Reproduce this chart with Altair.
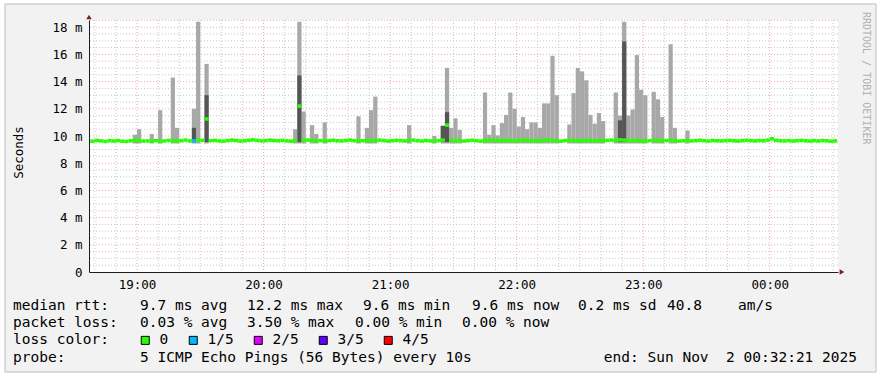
import altair as alt
import pandas as pd

MONO = "DejaVu Sans Mono"

# ---------------- data ----------------
bin_first = "18:36"          # first 2-minute RRD bin
bin_minutes = 2
view_start = "18:37:15"
view_end = "00:32:21"
y_max_ms = 18.53

# median rtt per 2-minute bin (ms)
median_ms = [
    9.66, 9.62, 9.68, 9.64, 9.60, 9.66, 9.63, 9.67, 9.62, 9.60, 9.65, 9.69, 9.66, 9.63, 9.64,
    9.62, 9.66, 9.60, 9.64, 9.68, 9.65, 9.62, 9.66, 9.70, 9.64, 9.65, 9.70, 9.68, 11.25, 9.66,
    9.68, 9.64, 9.62, 9.66, 9.70, 9.67, 9.63, 9.65, 9.69, 9.72, 9.68, 9.64, 9.66, 9.70, 9.67,
    9.65, 9.68, 9.64, 9.62, 9.66, 12.20, 9.68, 9.70, 9.66, 9.64, 9.67, 9.63, 9.66, 9.69, 9.65,
    9.64, 9.67, 9.70, 9.66, 9.63, 9.65, 9.68, 9.64, 9.66, 9.70, 9.67, 9.63, 9.65, 9.68, 9.66,
    9.64, 9.67, 9.70, 9.66, 9.63, 9.67, 9.64, 9.62, 9.66, 9.70, 10.80, 9.68, 9.64, 9.66, 9.63,
    9.66, 9.69, 9.65, 9.62, 9.66, 9.70, 9.67, 9.64, 9.66, 9.69, 9.65, 9.63, 9.67, 9.70, 9.66,
    9.64, 9.67, 9.63, 9.66, 9.70, 9.68, 9.64, 9.62, 9.66, 9.69, 9.65, 9.63, 9.66, 9.68, 9.65,
    9.63, 9.67, 9.65, 9.68, 9.70, 9.66, 9.72, 9.70, 9.66, 9.63, 9.67, 9.64, 9.62, 9.66, 9.69,
    9.66, 9.64, 9.67, 9.70, 9.66, 9.63, 9.65, 9.68, 9.64, 9.66, 9.69, 9.65, 9.63, 9.67, 9.65,
    9.64, 9.66, 9.68, 9.65, 9.63, 9.66, 9.69, 9.66, 9.64, 9.67, 9.65, 9.70, 9.80, 9.68, 9.65,
    9.64, 9.66, 9.63, 9.66, 9.68, 9.65, 9.63, 9.66, 9.64, 9.67, 9.65, 9.62, 9.64,
]

# light smoke: bins whose max ping rises above the baseline
spike_times = [
    "18:58", "19:00", "19:06", "19:10", "19:16", "19:18", "19:26", "19:28", "19:32",
    "20:14", "20:16", "20:18", "20:22", "20:24", "20:28", "20:44", "20:48", "20:50", "20:52",
    "21:08", "21:20", "21:24", "21:26", "21:28", "21:30", "21:32", "21:44", "21:46", "21:48",
    "21:50", "21:52", "21:54", "21:56", "21:58", "22:00", "22:02", "22:04", "22:06", "22:08",
    "22:10", "22:12", "22:14", "22:16", "22:18", "22:24", "22:26", "22:28", "22:30", "22:32",
    "22:34", "22:36", "22:38", "22:40", "22:46", "22:48", "22:50", "22:52", "22:54", "22:56",
    "22:58", "23:00", "23:04", "23:06", "23:08", "23:12", "23:14", "23:20",
]
spike_top_ms = [
    10.1, 10.5, 10.15, 11.9, 14.3, 10.6, 12.0, 18.4, 15.3,
    10.5, 18.4, 11.8, 10.8, 10.15, 11.0, 11.45, 10.6, 11.9, 12.9,
    10.8, 10.0, 10.75, 15.0, 10.6, 11.3, 10.45, 13.2, 10.1, 10.8,
    10.05, 10.95, 11.55, 13.2, 12.0, 10.7, 11.4, 10.5, 11.0, 11.0,
    10.6, 12.4, 12.4, 15.9, 13.0, 10.85, 13.15, 15.0, 14.75, 14.1,
    11.55, 10.9, 11.7, 11.1, 13.2, 11.5, 18.4, 11.5, 11.95, 15.95,
    13.4, 13.0, 13.25, 12.7, 11.4, 16.75, 10.6, 10.4,
]
smoke_floor_ms = 9.45

# dark smoke (inner pings)
dark_times = ["19:26", "19:32", "20:16", "21:24", "21:26", "22:48", "22:50"]
dark_top_ms = [10.6, 13.0, 14.45, 10.75, 11.75, 11.15, 16.95]
dark_floor_ms = 9.55

# packet loss per bin (only non-zero bins listed)
loss_times = ["19:26"]
loss_at = ["1/5"]
loss_levels = ["0", "1/5", "2/5", "3/5", "4/5"]
loss_colors = ["#26ff00", "#00b8ff", "#dd00ff", "#5e00ff", "#ff0000"]

y_ticks = [0, 2, 4, 6, 8, 10, 12, 14, 16, 18]
x_major = ["19:00", "20:00", "21:00", "22:00", "23:00", "00:00"]

rtt_label = "median rtt:"
rtt_values = ["9.7 ms avg", "12.2 ms max", "9.6 ms min", "9.6 ms now", "0.2 ms sd", "40.8", "am/s"]
loss_label = "packet loss:"
loss_values = ["0.03 % avg", "3.50 % max", "0.00 % min", "0.00 % now"]
color_label = "loss color:"
probe_label = "probe:"
probe_text = "5 ICMP Echo Pings (56 Bytes) every 10s"
end_text = "end: Sun Nov\u00a0\u00a02 00:32:21 2025"
watermark = "RRDTOOL / TOBI OETIKER"

# ---------------- layout constants ----------------
W, H = 749, 252
LEFT, TOP = 89, 20
FS = 14.5
AXIS_C = "#1f1f1f"
GRID_C = "#c8c8c8"
MGRID_C = "#f0a8a8"
ARROW_C = "#801f1f"
LIGHT = "#a8a8a8"
DARK = "#555555"


def to_min(s):
    parts = [int(p) for p in s.split(":")]
    sec = parts[2] if len(parts) > 2 else 0
    return ((parts[0] * 60 + parts[1] - 18 * 60) % 1440) + sec / 60.0


X_SCALE = alt.Scale(domain=[to_min(view_start), to_min(view_end)], nice=False, zero=False)
Y_SCALE = alt.Scale(domain=[0, y_max_ms], nice=False, zero=False)

t_first = to_min(bin_first)
loss_map = dict(zip(loss_times, loss_at))
med_df = pd.DataFrame({
    "t0": [t_first + bin_minutes * i for i in range(len(median_ms))],
    "ms": median_ms,
})
med_df["t1"] = med_df["t0"] + bin_minutes
med_df["level"] = [loss_map.get(f"{(18 + int(t // 60)) % 24:02d}:{int(t % 60):02d}", "0") for t in med_df["t0"]]

spike_df = pd.DataFrame({"t0": [to_min(t) for t in spike_times], "hi": spike_top_ms})
spike_df["t1"] = spike_df["t0"] + bin_minutes
spike_df["lo"] = smoke_floor_ms

dark_df = pd.DataFrame({"t0": [to_min(t) for t in dark_times], "hi": dark_top_ms})
dark_df["t1"] = dark_df["t0"] + bin_minutes
dark_df["lo"] = dark_floor_ms

major_x = [to_min(t) for t in x_major]
minor_x = [m for m in range(40, 393, 10) if m % 60]
major_y = [v for v in y_ticks if v > 0]
minor_y = [v / 2 for v in range(1, 38) if v % 4]

X_AXIS = alt.Axis(
    values=major_x,
    labelExpr="timeFormat(datetime(2025, 10, 1, 18, datum.value, 0), '%H:%M')",
    grid=False, ticks=False, domainColor=AXIS_C, domainWidth=1,
    labelFont=MONO, labelFontSize=12.5, labelColor="black", labelPadding=6,
    title="", zindex=1,
)
Y_AXIS = alt.Axis(
    values=y_ticks,
    labelExpr="datum.value == 0 ? '0\u00a0\u00a0' : datum.value + ' m'",
    grid=False, ticks=False, domainColor=AXIS_C, domainWidth=1,
    labelFont=MONO, labelFontSize=12.5, labelColor="black", labelPadding=7,
    title="Seconds", titleFont=MONO, titleFontSize=12.5, titleFontWeight="normal",
    titleColor="black", titleAngle=270, titleX=18 - LEFT, titleY=152 - TOP,
    titleAlign="center", titleBaseline="middle", zindex=1,
)


def xq(field):
    return alt.X(field, type="quantitative", scale=X_SCALE, axis=X_AXIS)


def yq(field):
    return alt.Y(field, type="quantitative", scale=Y_SCALE, axis=Y_AXIS)


# ---------------- decoration: frame & canvas ----------------
frame = alt.Chart(pd.DataFrame({"k": [0]})).mark_rect(
    fill="#f2f2f2", stroke="#bdbdbd", strokeWidth=1
).encode(
    x=alt.value(5 - LEFT), x2=alt.value(876 - LEFT),
    y=alt.value(4 - TOP), y2=alt.value(372 - TOP),
)
canvas = alt.Chart(pd.DataFrame({"k": [0]})).mark_rect(fill="white").encode(
    x=alt.value(0), x2=alt.value(W), y=alt.value(0), y2=alt.value(H),
)


# ---------------- grid ----------------
def vgrid(vals, color):
    return alt.Chart(pd.DataFrame({"t": vals})).mark_rule(
        color=color, strokeWidth=1, strokeDash=[1, 2]
    ).encode(x=xq("t"))


def hgrid(vals, color):
    return alt.Chart(pd.DataFrame({"v": vals})).mark_rule(
        color=color, strokeWidth=1, strokeDash=[1, 2]
    ).encode(y=yq("v"))


# ---------------- data marks ----------------
smoke = alt.Chart(spike_df).mark_rect(color=LIGHT).encode(
    x=xq("t0"), x2="t1", y=yq("lo"), y2="hi",
)
smoke_dark = alt.Chart(dark_df).mark_rect(color=DARK).encode(
    x=xq("t0"), x2="t1", y=yq("lo"), y2="hi",
)
median = alt.Chart(med_df).mark_rule(strokeWidth=3.5, clip=True).encode(
    x=xq("t0"), x2="t1", y=yq("ms"),
    stroke=alt.Stroke("level:N", scale=alt.Scale(domain=loss_levels, range=loss_colors), legend=None),
)

# ---------------- legend (loss colors) ----------------
legend_df = pd.DataFrame({"level": loss_levels, "t": [None] * 5, "v": [None] * 5})
legend_layer = alt.Chart(legend_df).mark_square(
    filled=True, stroke="black", strokeWidth=1, opacity=1
).encode(
    x=xq("t"), y=yq("v"),
    fill=alt.Fill(
        "level:N",
        scale=alt.Scale(domain=loss_levels, range=loss_colors),
        legend=alt.Legend(
            title=color_label, orient="none", legendX=13 - LEFT, legendY=333 - TOP,
            direction="horizontal", titleOrient="left", titlePadding=28,
            symbolType="square", symbolSize=64, symbolStrokeColor="black", symbolStrokeWidth=1,
            symbolOpacity=1,
            labelFont=MONO, labelFontSize=FS, labelColor="black", labelOffset=7,
            titleFont=MONO, titleFontSize=FS, titleFontWeight="normal", titleColor="black",
            titleBaseline="middle", titleAnchor="middle",
            columnPadding=17, padding=0,
        ),
    ),
)

# ---------------- axis arrows ----------------
arrow_up = alt.Chart(pd.DataFrame({"k": [0]})).mark_point(
    shape="triangle-up", filled=True, color=ARROW_C, size=30, opacity=1
).encode(x=alt.value(0), y=alt.value(-3))
arrow_right = alt.Chart(pd.DataFrame({"k": [0]})).mark_point(
    shape="triangle-right", filled=True, color=ARROW_C, size=30, opacity=1
).encode(x=alt.value(W + 4), y=alt.value(H))

# ---------------- text ----------------
rows = []
rows.append((rtt_label, 13, 310))
for txt, px in zip(rtt_values, [140, 247, 363, 472, 578, 667, 738]):
    rows.append((txt, px, 310))
rows.append((loss_label, 13, 327))
for txt, px in zip(loss_values, [140, 247, 355, 462]):
    rows.append((txt, px, 327))
rows.append((probe_label, 13, 362))
rows.append((probe_text, 140, 362))
text_df = pd.DataFrame({
    "txt": [r[0] for r in rows],
    "px": [r[1] - LEFT for r in rows],
    "py": [r[2] - TOP for r in rows],
})
texts = alt.Chart(text_df).mark_text(
    font=MONO, fontSize=FS, align="left", baseline="alphabetic", color="black"
).encode(
    x=alt.X("px:Q", scale=None, axis=None), y=alt.Y("py:Q", scale=None, axis=None), text="txt:N",
)
end_label = alt.Chart(pd.DataFrame({"txt": [end_text]})).mark_text(
    font=MONO, fontSize=FS, align="right", baseline="alphabetic", color="black"
).encode(x=alt.value(857 - LEFT), y=alt.value(362 - TOP), text="txt:N")
wm = alt.Chart(pd.DataFrame({"txt": [watermark]})).mark_text(
    font=MONO, fontSize=10, align="left", baseline="middle", color="#b0b0b0", angle=90
).encode(x=alt.value(866 - LEFT), y=alt.value(12 - TOP), text="txt:N")

chart = alt.layer(
    frame, canvas,
    vgrid(minor_x, GRID_C), hgrid(minor_y, GRID_C),
    vgrid(major_x, MGRID_C), hgrid(major_y, MGRID_C),
    smoke, smoke_dark, median, legend_layer,
    arrow_up, arrow_right, texts, end_label, wm,
).resolve_scale(stroke="independent", fill="independent").properties(
    width=W, height=H,
    padding={"left": LEFT, "top": TOP, "right": 882 - LEFT - W, "bottom": 377 - TOP - H},
    autosize=alt.AutoSizeParams(type="none"),
).configure_view(stroke=None).configure(background="white")

chart.save("out.html", embed_options={"renderer": "svg", "actions": False})
